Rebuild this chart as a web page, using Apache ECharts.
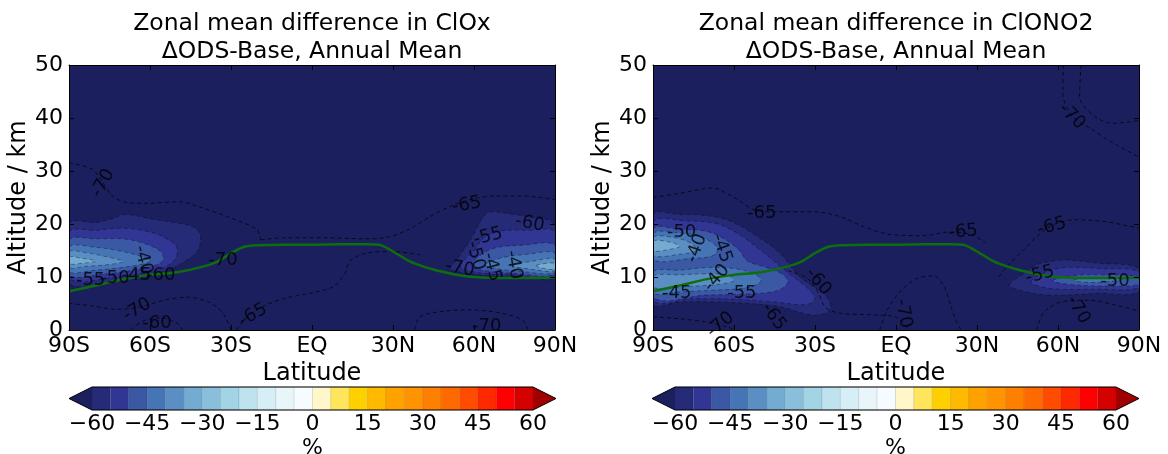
<!DOCTYPE html>
<html>
<head>
<meta charset="utf-8">
<title>Zonal mean difference in ClOx / ClONO2</title>
<style>
html,body{margin:0;padding:0;background:#fff;}
#main{width:1168px;height:454px;}
</style>
</head>
<body>
<div id="main"></div>
<script src="https://cdn.jsdelivr.net/npm/echarts@6/dist/echarts.min.js"></script>
<script type="text/javascript">
// tick labels
var latTicks = ['90S', '60S', '30S', 'EQ', '30N', '60N', '90N'];
var cbarTicks = [-60, -45, -30, -15, 0, 15, 30, 45, 60];

// colour levels (%) and their colours
var cbarLevels = [-60, -55, -50, -45, -40, -35, -30, -25, -20, -15, -10, -5, 0, 5, 10, 15, 20, 25, 30, 35, 40, 45, 50, 55, 60];
var cbarColors = ['#262b78', '#313694', '#3b58a5', '#4575b4', '#5b8fc4', '#74acd1', '#8abfdb', '#a3d4e6',
    '#bfe3ee', '#d6eef5', '#e8f6fa', '#f6fbff', '#fff6c9', '#ffe55c', '#ffd000', '#ffb900',
    '#ffa200', '#ff9300', '#ff8000', '#ff6a00', '#ff4c00', '#ff2900', '#ff0000', '#d50000'];
var underColor = '#1c1f5e';
var overColor = '#a00000';

// tropopause (green line)
var tropLat = [-90, -80, -70, -60, -50, -40, -35, -30, -25, -20, -10, 0, 10, 20, 25, 28, 32, 36, 40, 45, 50, 55, 60, 70, 80, 90];
var tropAlt = [7.3, 8.4, 9.6, 10.4, 10.9, 12.0, 12.9, 14.5, 15.7, 16.0, 16.1, 16.1, 16.2, 16.2, 16.1, 15.4, 14.2, 13.0, 12.2, 11.4, 10.8, 10.3, 10.0, 9.8, 9.8, 9.9];

// ClOx filled contours [lat, alt]
var cloxS60 = [[-90, 20.1], [-80, 20.3], [-74, 21], [-69, 21.8], [-59, 20.9], [-50, 20.2], [-44, 19.5], [-41.5, 18.2], [-41.5, 16], [-43, 14.5], [-47, 13], [-51, 11.8], [-58, 10.6], [-66, 9.5], [-78, 8.6], [-90, 8.9]];
var cloxS55 = [[-90, 18.5], [-80, 18.8], [-70, 19.2], [-60, 18.5], [-53, 17], [-50, 15.5], [-50.5, 13.5], [-54, 12], [-62, 10.8], [-72, 10], [-90, 9.8]];
var cloxS50 = [[-90, 17], [-80, 17.2], [-70, 17.2], [-62, 16.3], [-56, 14.8], [-55, 13.3], [-58, 12.2], [-66, 11.3], [-76, 10.6], [-90, 10.4]];
var cloxS45 = [[-90, 15.7], [-80, 15.6], [-72, 15], [-64, 14], [-60, 13], [-64, 12.3], [-72, 11.7], [-82, 11.2], [-90, 11]];
var cloxS40 = [[-90, 14.8], [-84, 14.6], [-76, 13.8], [-70, 12.9], [-76, 12.3], [-84, 12], [-90, 11.8]];
var cloxS35 = [[-90, 13.8], [-86, 13.6], [-80, 13.0], [-85, 12.6], [-90, 12.5]];
var cloxN60 = [[51, 11.5], [53.5, 13.2], [57, 15.7], [60, 18.2], [63.5, 21.4], [66, 22.3], [72, 22], [79.5, 21.4], [90, 19.8], [90, 10], [80, 9.9], [70, 10.1], [60, 10.5], [54, 11]];
var cloxN55 = [[55, 12], [60, 15], [64, 17.6], [70, 18.7], [80, 18.8], [90, 18.5], [90, 10.3], [75, 10.4], [62, 10.8]];
var cloxN50 = [[59, 12], [62, 14], [68, 15.5], [78, 16], [90, 16], [90, 10.6], [75, 10.7], [64, 11.2]];
var cloxN45 = [[64, 12.3], [70, 13.6], [80, 14.3], [90, 14.5], [90, 10.9], [78, 11], [68, 11.6]];
var cloxN40 = [[74, 12.2], [82, 13], [90, 13.4], [90, 11.2], [82, 11.4]];
var cloxN35 = [[83, 12.2], [90, 12.6], [90, 11.5], [85, 11.7]];

// ClONO2 filled contours [lat, alt]
var cnoS60 = [[-90, 21.7], [-80, 21.8], [-72.6, 21.7], [-62.7, 20.8], [-53, 18.2], [-43, 14.5], [-35.6, 10], [-30.6, 8.2], [-25.7, 6.3], [-24.4, 3.8], [-30.7, 2.8], [-43, 4.4], [-55, 5], [-67.6, 5.3], [-80, 5.3], [-90, 5.0]];
var cnoS55 = [[-90, 20.3], [-78, 20.6], [-66, 20], [-58, 18], [-50, 15], [-44, 12.5], [-38, 10], [-33, 8], [-30, 6], [-33, 4.8], [-45, 5.3], [-60, 5.8], [-75, 5.9], [-90, 5.7]];
var cnoS50 = [[-90, 19], [-80, 19], [-70, 18.6], [-63, 17], [-58, 15], [-55, 13], [-48, 11.8], [-42, 10.5], [-40, 9], [-44, 7.4], [-55, 6.8], [-70, 6.6], [-90, 6.3]];
var cnoS45a = [[-90, 18.2], [-80, 18.3], [-72, 17.5], [-66, 15.5], [-68, 14], [-76, 13.5], [-90, 13.3]];
var cnoS45b = [[-90, 11], [-80, 11.3], [-70, 11.8], [-60, 11.6], [-52, 10.5], [-50, 9.2], [-55, 8], [-68, 7.5], [-80, 7.2], [-90, 7]];
var cnoS40a = [[-90, 17.5], [-82, 17.4], [-76, 16.4], [-74, 15], [-80, 14.3], [-90, 14.1]];
var cnoS40b = [[-90, 10.2], [-80, 10.4], [-70, 10.6], [-62, 10.3], [-60, 9.3], [-66, 8.6], [-78, 8.2], [-90, 8]];
var cnoS35 = [[-90, 16.8], [-84, 16.6], [-80, 15.8], [-85, 15.1], [-90, 15]];
var cnoN60 = [[42, 8.5], [47, 10.5], [52, 12.3], [57, 12.9], [63, 13.2], [75, 12.6], [90, 11.6], [90, 7.2], [75, 6.9], [56, 6.6], [46, 7.5]];
var cnoN55 = [[50, 9], [56, 11], [63, 11.8], [75, 11.6], [90, 11], [90, 8], [75, 7.7], [58, 7.8]];
var cnoN50 = [[58, 9.3], [66, 10.3], [78, 10.4], [90, 10], [90, 8.6], [78, 8.3], [64, 8.6]];
var cnoN45 = [[66, 9.5], [74, 9.9], [84, 9.6], [76, 9.0], [68, 9.1]];

// dashed contour lines [lat, alt]
var cloxC1 = [[-90, 31.5], [-81, 30.2], [-74, 25.3], [-68, 24], [-62, 23.9], [-49, 24.2], [-41.5, 23.2], [-31.5, 21.4], [-20.5, 19], [-19, 17]];
var cloxC2 = [[-19, 17], [-10, 17.4], [5, 17.4], [20, 17.2], [28, 17.5], [36, 19], [44, 21.5], [52, 23.5], [60, 24.8], [68, 25.3], [78, 25.3], [90, 24.6]];
var cloxC3 = [[-90, 5], [-82, 4.6], [-72, 3.9], [-64, 4.3], [-55, 5.6], [-46, 6.2], [-38, 5.2], [-33, 3.2], [-30, 0]];
var cloxC4 = [[-67, 0], [-63, 1.6], [-56, 2.3], [-50, 1.3], [-48, 0]];
var cloxC5 = [[-28, 0], [-24, 2.5], [-18, 4.5], [-10, 6], [0, 7], [8, 8.2], [12, 10.5], [14, 13], [20, 14.5], [30, 14.8], [40, 14.2]];
var cloxC6 = [[38, 0], [40, 2.5], [48, 3.5], [58, 3.8], [70, 3.2], [78, 1.8], [80, 0]];
var cnoC1 = [[62, 50], [61.8, 44.7], [65, 40.5], [73, 37.7], [80.4, 35.3], [90, 32.6]];
var cnoC2 = [[68.5, 50], [68, 44], [73, 40.5], [80, 39], [90, 39.5]];
var cnoC3 = [[-90, 25], [-80, 25.8], [-68, 26.8], [-60, 25], [-52, 22.6], [-43, 22.3], [-30.7, 22.3], [-20.7, 21.4], [-12, 19.5], [-2, 18], [10, 17.8], [20, 18.5], [28, 18], [33, 16.5]];
var cnoC4 = [[38, 10], [42, 12.5], [47, 15], [52, 17.6], [58, 19.8], [66, 20.8], [78, 20.4], [90, 19.2]];
var cnoC5 = [[-40, 11.2], [-33, 9.8], [-29, 7.2], [-26, 4.2], [-20, 3.1], [-10, 2.9], [0, 2.4], [5, 0]];
var cnoC6 = [[-6, 0], [-3, 4], [2, 7.5], [8, 9.8], [14, 10.2], [18, 8], [20, 5], [22, 2], [24, 0]];
var cnoC7 = [[52, 0], [55, 3.5], [62, 5.4], [72, 5.6], [82, 4.6], [90, 3.6]];
var cnoC8 = [[-90, 2.5], [-80, 2.1], [-70, 1.5], [-62, 0.5], [-60, 0]];

// contour labels [lat, alt, text, rotation]
var cloxLabels = [[-77.4, 27.7, '-70', 60], [-82, 9.4, '-55', 0], [-73, 9.8, '-50', 0], [-65, 10.3, '-45', 0],
    [-56, 10.3, '-60', 0], [-62.6, 13.2, '-40', -75], [-33, 13.2, '-70', 0], [-64.8, 3.8, '-70', 30],
    [-57.4, 1.3, '-60', 0], [-21.8, 2.8, '-65', 30], [57.3, 23.6, '-65', 10], [80.7, 20.1, '-60', -10],
    [65.2, 17.6, '-55', 15], [54.8, 11.6, '-70', -10], [60.5, 14, '-50', -75], [66.5, 11.9, '-45', -75],
    [74.6, 12.3, '-40', -80], [64.7, 0.6, '-70', 0]];
var cnoLabels = [[-49.7, 22, '-65', 0], [-79.4, 18.5, '-50', 0], [-73.8, 15.4, '-40', 70], [-64.6, 15.4, '-45', -70],
    [-66.4, 9.8, '-40', 50], [-81.2, 6.9, '-45', 0], [-57.1, 6.9, '-55', 0], [-28.8, 9.1, '-60', -50],
    [-45.4, 2.5, '-65', -55], [-65, 1.0, '-70', 40], [65.1, 40.3, '-70', -45], [24.9, 18.5, '-65', 5],
    [57.7, 19.5, '-65', 15], [53.3, 10.4, '-55', 15], [81.1, 9.1, '-50', 0], [2.7, 3.1, '-70', -80],
    [67.5, 3.8, '-70', -60]];

var cloxBands = [[-60, cloxS60], [-60, cloxN60], [-55, cloxS55], [-55, cloxN55], [-50, cloxS50], [-50, cloxN50],
    [-45, cloxS45], [-45, cloxN45], [-40, cloxS40], [-40, cloxN40], [-35, cloxS35], [-35, cloxN35]];
var cnoBands = [[-60, cnoS60], [-60, cnoN60], [-55, cnoS55], [-55, cnoN55], [-50, cnoS50], [-50, cnoN50],
    [-45, cnoS45a], [-45, cnoS45b], [-45, cnoN45], [-40, cnoS40a], [-40, cnoS40b], [-35, cnoS35]];
var cloxLines = [cloxC1, cloxC2, cloxC3, cloxC4, cloxC5, cloxC6];
var cnoLines = [cnoC1, cnoC2, cnoC3, cnoC4, cnoC5, cnoC6, cnoC7, cnoC8];

var FONT = 'DejaVu Sans';
var TICK_SIZE = 22;
var NAME_SIZE = 24;
var myChart = echarts.init(document.getElementById('main'), null, {renderer: 'canvas'});

function levelColor(lv) {
    return cbarColors[cbarLevels.indexOf(lv)];
}

function fmtMinus(v) {
    return v < 0 ? '\u2212' + (-v) : String(v);
}

function latAxis(gi, top) {
    return {
        type: 'value', gridIndex: gi, min: -90, max: 90, interval: 30,
        position: top ? 'top' : 'bottom', z: 10,
        axisLine: {show: true, onZero: false, lineStyle: {color: '#000', width: 1}},
        axisTick: {show: true, inside: true, length: 5, lineStyle: {color: '#000'}},
        axisLabel: top ? {show: false} : {
            show: true, margin: 5, fontSize: TICK_SIZE, color: '#000', fontFamily: FONT,
            formatter: function (v) { return latTicks[Math.round((v + 90) / 30)]; }
        },
        splitLine: {show: false},
        name: top ? '' : 'Latitude', nameLocation: 'middle', nameGap: 27,
        nameTextStyle: {fontSize: NAME_SIZE, color: '#000', fontFamily: FONT}
    };
}

function altAxis(gi, right) {
    return {
        type: 'value', gridIndex: gi, min: 0, max: 50, interval: 10,
        position: right ? 'right' : 'left', z: 10,
        axisLine: {show: true, onZero: false, lineStyle: {color: '#000', width: 1}},
        axisTick: {show: true, inside: true, length: 5, lineStyle: {color: '#000'}},
        axisLabel: right ? {show: false} : {show: true, margin: 6, fontSize: TICK_SIZE, color: '#000', fontFamily: FONT},
        splitLine: {show: false},
        name: right ? '' : 'Altitude / km', nameLocation: 'middle', nameGap: 33,
        nameTextStyle: {fontSize: NAME_SIZE, color: '#000', fontFamily: FONT}
    };
}

function cbarAxis(gi) {
    return {
        type: 'value', gridIndex: gi, min: -60, max: 60, interval: 15,
        axisLine: {show: false}, axisTick: {show: false}, splitLine: {show: false},
        axisLabel: {show: true, margin: 3, fontSize: TICK_SIZE, color: '#000', fontFamily: FONT, formatter: fmtMinus},
        name: '%', nameLocation: 'middle', nameGap: 27,
        nameTextStyle: {fontSize: TICK_SIZE, color: '#000', fontFamily: FONT}
    };
}

function panelSeries(ax, bands, lines, labels) {
    var out = [];
    // filled contour bands
    out.push({
        type: 'custom', xAxisIndex: ax, yAxisIndex: ax, clip: true, z: 2, silent: true,
        data: bands.map(function (b, i) { return [b[1][0][0], b[1][0][1], i]; }),
        renderItem: function (params, api) {
            var b = bands[api.value(2)];
            return {
                type: 'polygon',
                shape: {points: b[1].map(function (p) { return api.coord(p); }), smooth: 0.35},
                style: {fill: levelColor(b[0]), stroke: 'rgba(0,0,0,0.45)', lineWidth: 0.8, lineDash: [4, 3]}
            };
        }
    });
    // dashed contour lines
    lines.forEach(function (pts) {
        out.push({
            type: 'line', xAxisIndex: ax, yAxisIndex: ax, data: pts, symbol: 'none', smooth: 0.3,
            silent: true, z: 4, clip: true,
            lineStyle: {type: [4, 3], width: 1, color: 'rgba(0,0,0,0.7)'}
        });
    });
    // tropopause
    out.push({
        type: 'line', xAxisIndex: ax, yAxisIndex: ax, symbol: 'none', smooth: 0.3, silent: true, z: 5,
        data: tropLat.map(function (v, i) { return [v, tropAlt[i]]; }),
        lineStyle: {color: '#0c6f0c', width: 2.5}
    });
    // contour labels
    out.push({
        type: 'scatter', xAxisIndex: ax, yAxisIndex: ax, symbolSize: 0, silent: true, z: 6,
        data: labels.map(function (l) {
            return {value: [l[0], l[1]], label: {formatter: l[2], rotate: l[3]}};
        }),
        label: {show: true, position: 'inside', color: '#000', fontSize: 18, fontFamily: FONT}
    });
    return out;
}

function cbarSeries(ax) {
    var n = cbarColors.length;
    return {
        type: 'custom', xAxisIndex: ax, yAxisIndex: ax, silent: true, z: 3,
        data: cbarColors.map(function (c, i) { return [cbarLevels[i], 0.5, i]; }),
        renderItem: function (params, api) {
            var i = api.value(2);
            var a = api.coord([cbarLevels[i], 1]);
            var b = api.coord([cbarLevels[i + 1], 0]);
            var kids = [{
                type: 'rect',
                shape: {x: a[0], y: a[1], width: b[0] - a[0], height: b[1] - a[1]},
                style: {fill: cbarColors[i], stroke: 'rgba(0,0,0,0.15)', lineWidth: 0.6}
            }];
            var lo = api.coord([cbarLevels[0], 1]);
            var hi = api.coord([cbarLevels[n], 0]);
            var ym = (lo[1] + hi[1]) / 2;
            var tip = 23;
            if (i === 0) {
                kids.push({type: 'polygon', shape: {points: [[lo[0], lo[1]], [lo[0] - tip, ym], [lo[0], hi[1]]]},
                    style: {fill: underColor}});
            }
            if (i === n - 1) {
                kids.push({type: 'polygon', shape: {points: [[hi[0], lo[1]], [hi[0] + tip, ym], [hi[0], hi[1]]]},
                    style: {fill: overColor}});
                kids.push({type: 'polygon',
                    shape: {points: [[lo[0] - tip, ym], [lo[0], lo[1]], [hi[0], lo[1]], [hi[0] + tip, ym], [hi[0], hi[1]], [lo[0], hi[1]]]},
                    style: {fill: 'none', stroke: '#000', lineWidth: 1}});
            }
            return {type: 'group', children: kids};
        }
    };
}

var titleStyle = {fontSize: 23.5, fontWeight: 'normal', color: '#000', fontFamily: FONT, lineHeight: 28};

var option = {
    animation: false,
    backgroundColor: '#fff',
    title: [
        {text: 'Zonal mean difference in ClOx\n\u0394ODS-Base, Annual Mean', left: 312, top: 10, padding: 0,
            textAlign: 'center', textStyle: titleStyle},
        {text: 'Zonal mean difference in ClONO2\n\u0394ODS-Base, Annual Mean', left: 896, top: 10, padding: 0,
            textAlign: 'center', textStyle: titleStyle}
    ],
    grid: [
        {left: 69, top: 65, width: 486, height: 265, show: true, backgroundColor: underColor, borderWidth: 0, outerBoundsMode: 'none'},
        {left: 653, top: 65, width: 486, height: 265, show: true, backgroundColor: underColor, borderWidth: 0, outerBoundsMode: 'none'},
        {left: 92, top: 387, width: 441, height: 23, outerBoundsMode: 'none'},
        {left: 675, top: 387, width: 441, height: 23, outerBoundsMode: 'none'}
    ],
    xAxis: [latAxis(0, false), latAxis(0, true), latAxis(1, false), latAxis(1, true), cbarAxis(2), cbarAxis(3)],
    yAxis: [altAxis(0, false), altAxis(0, true), altAxis(1, false), altAxis(1, true),
        {type: 'value', gridIndex: 2, min: 0, max: 1, show: false},
        {type: 'value', gridIndex: 3, min: 0, max: 1, show: false}],
    series: []
};

// series on each panel: ClOx uses axes 0, ClONO2 axes 2
option.series = option.series
    .concat(panelSeries(0, cloxBands, cloxLines, cloxLabels))
    .concat(panelSeries(2, cnoBands, cnoLines, cnoLabels))
    .concat([cbarSeries(4), cbarSeries(5)]);

myChart.setOption(option);
</script>
</body>
</html>
